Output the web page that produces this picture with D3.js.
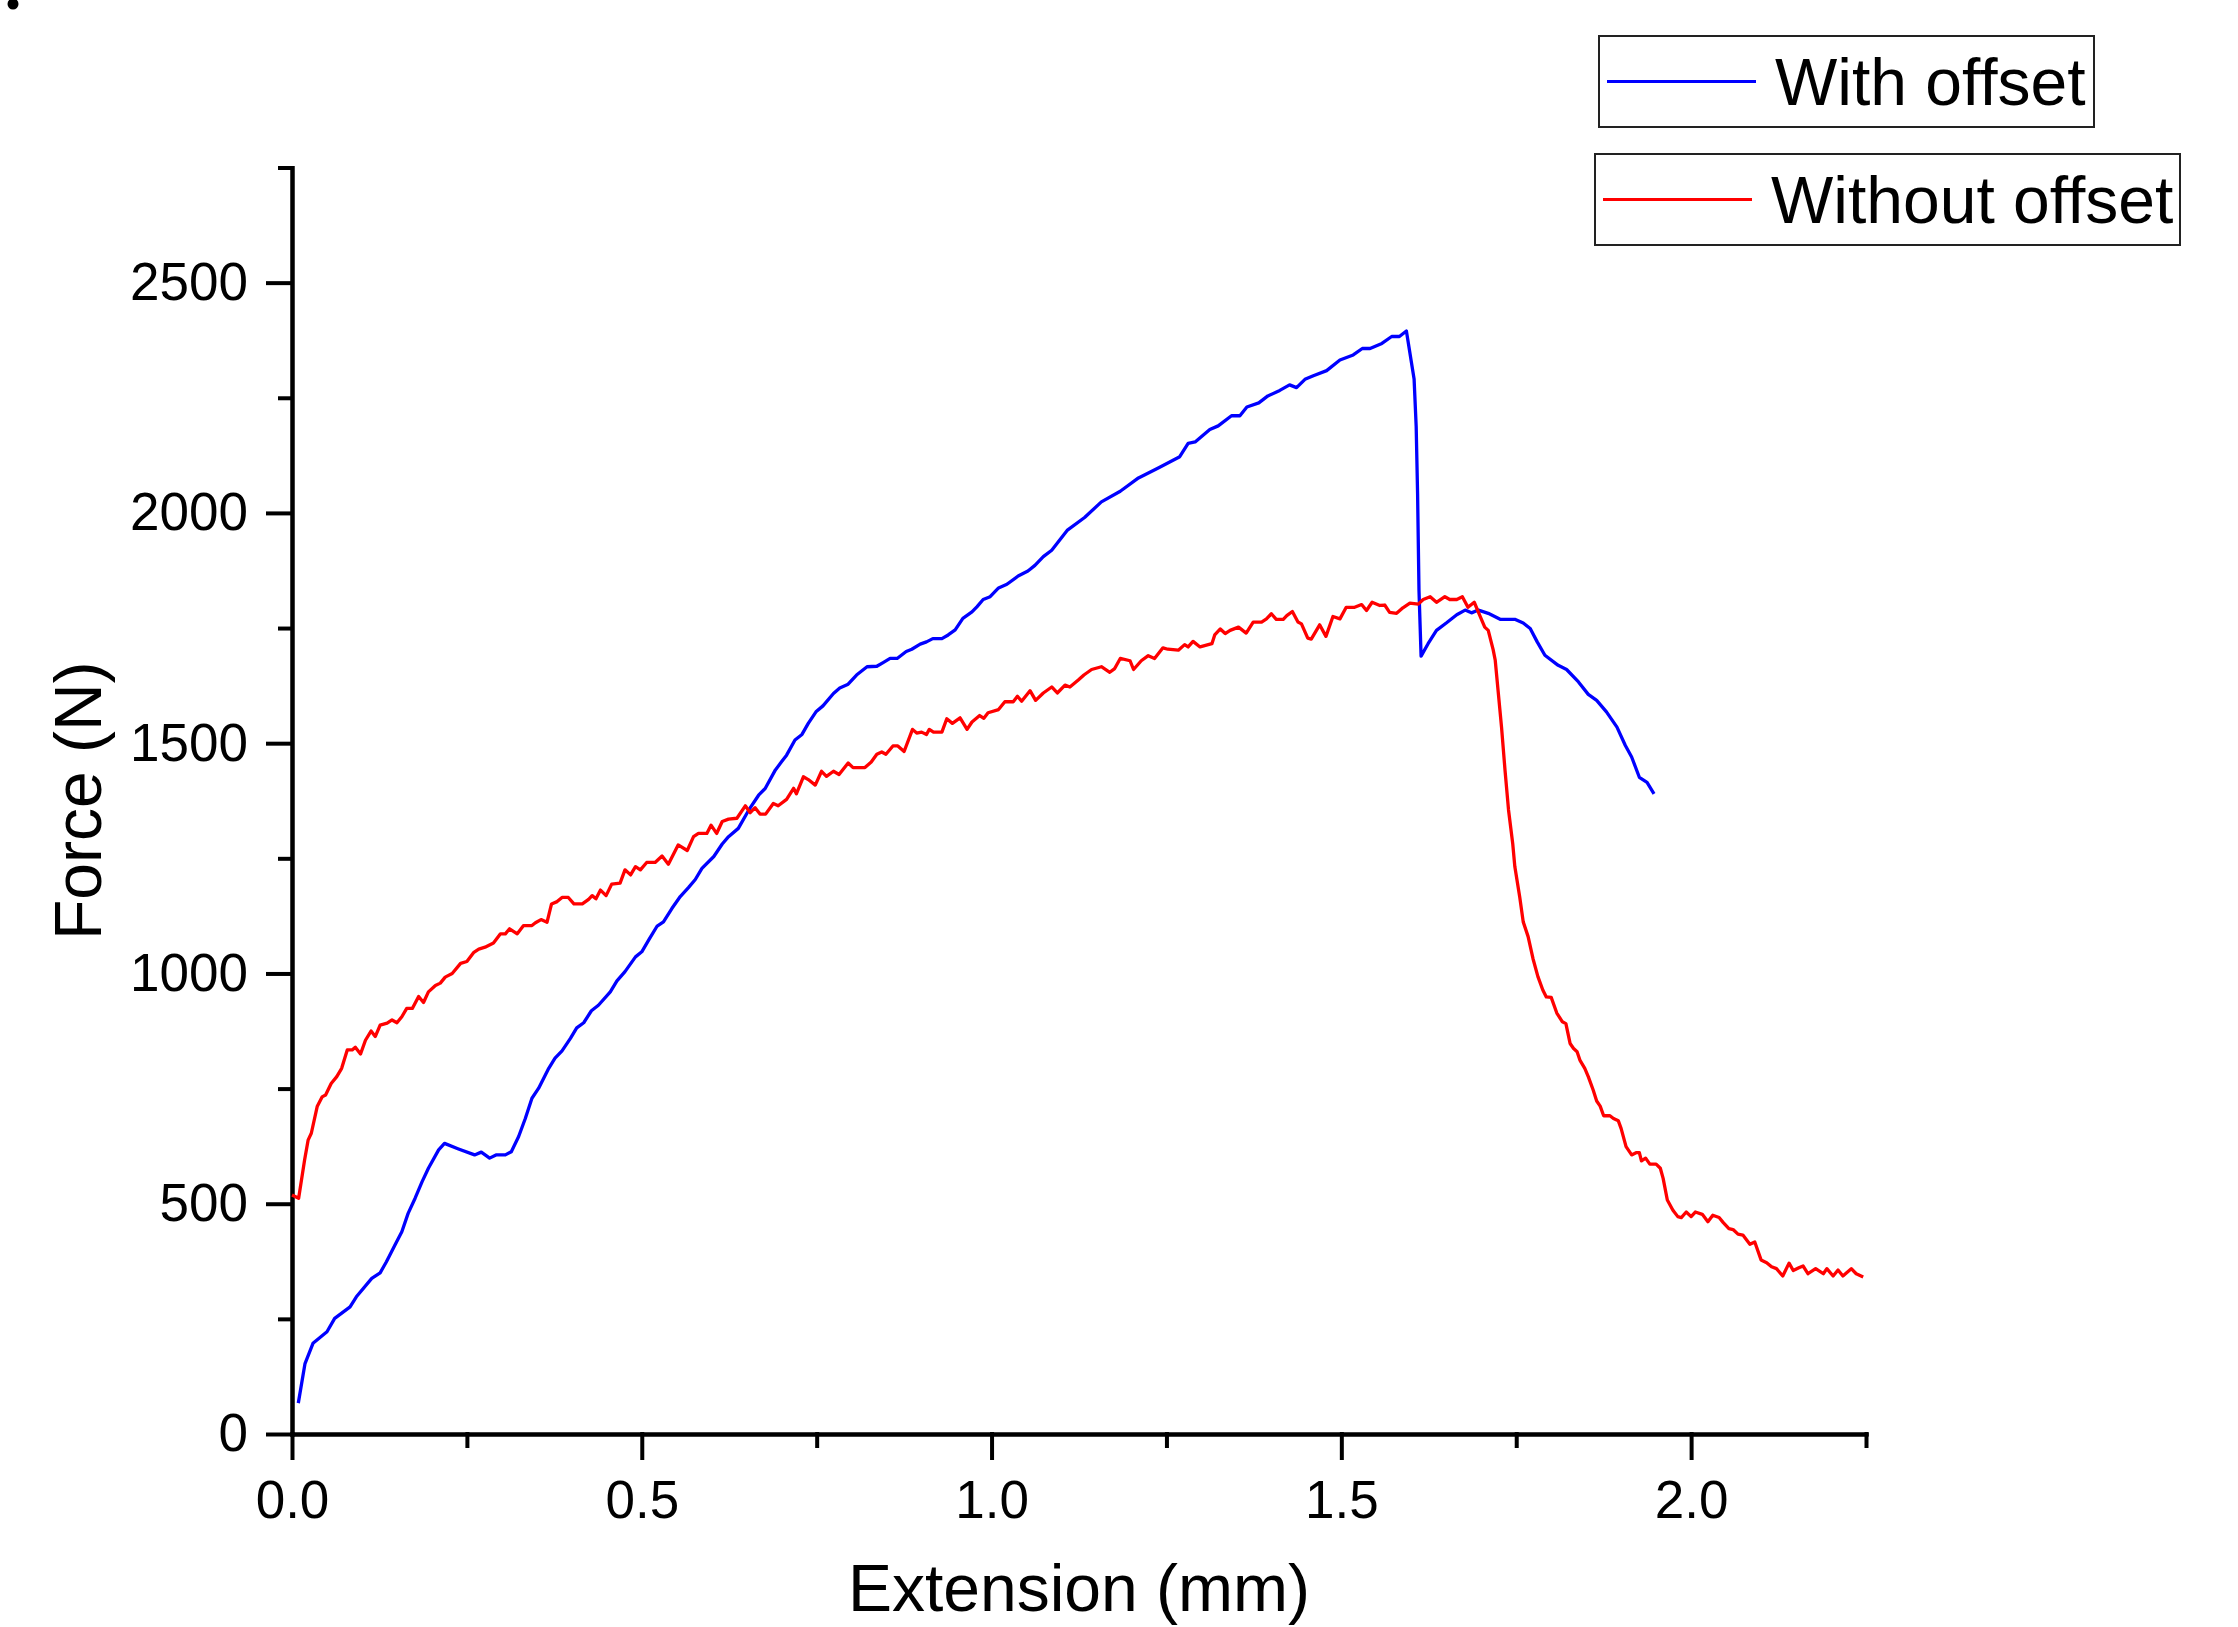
<!DOCTYPE html>
<html>
<head>
<meta charset="utf-8">
<script src="https://cdn.jsdelivr.net/npm/d3@7"></script>
<style>
  body { margin: 0; background: #fff; }
  svg { display: block; font-family: "Liberation Sans", Arial, sans-serif; }
  .axis path, .axis line { stroke: #000; stroke-width: 4; stroke-linecap: square; }
  .axis text { font-size: 53px; fill: #000; font-family: "Liberation Sans", Arial, sans-serif; }
</style>
</head>
<body>
<div id="chart"></div>
<script>
// series names, in legend order
const seriesNames = ["With offset", "Without offset"];
const seriesColors = ["#0000ff", "#ff0000"];

// tick values
const xMajorTicks = [0, 0.5, 1.0, 1.5, 2.0];
const xMinorTicks = [0.25, 0.75, 1.25, 1.75, 2.25];
const yMajorTicks = [0, 500, 1000, 1500, 2000, 2500];
const yMinorTicks = [250, 750, 1250, 1750, 2250, 2750];

// [extension (mm), force (N)]
const withOffset = [
  [0.009,67],[0.0186,153],[0.030,197],[0.050,222],[0.061,251],[0.083,276],[0.092,298],[0.114,338],
  [0.126,350],[0.135,374],[0.147,410],[0.157,439],[0.166,479],[0.176,512],[0.186,548],[0.195,577],
  [0.2096,617],[0.218,631],[0.238,619],[0.261,606],[0.2706,612],[0.2825,599],[0.2916,606],[0.305,606],
  [0.3135,613],[0.324,646],[0.3335,685],[0.343,729],[0.3526,751],[0.367,794],[0.376,816],[0.386,832],
  [0.398,859],[0.407,882],[0.417,893],[0.428,919],[0.438,931],[0.455,960],[0.4645,984],[0.476,1004],
  [0.491,1036],[0.500,1047],[0.510,1073],[0.522,1103],[0.531,1112],[0.543,1141],[0.555,1167],[0.567,1187],
  [0.5765,1204],[0.586,1228],[0.603,1254],[0.615,1281],[0.624,1297],[0.638,1315],[0.653,1355],[0.667,1387],
  [0.6766,1402],[0.691,1442],[0.700,1460],[0.707,1474],[0.719,1507],[0.729,1519],[0.738,1543],[0.749,1568],
  [0.759,1581],[0.774,1608],[0.783,1620],[0.795,1628],[0.807,1648],[0.822,1666],[0.836,1667],[0.845,1675],
  [0.855,1684],[0.865,1684],[0.878,1699],[0.886,1704],[0.898,1715],[0.907,1720],[0.916,1727],[0.929,1727],
  [0.938,1735],[0.948,1746],[0.959,1771],[0.972,1785],[0.979,1796],[0.988,1812],[0.998,1818],[1.010,1837],
  [1.022,1845],[1.038,1863],[1.052,1874],[1.062,1886],[1.074,1905],[1.086,1919],[1.108,1962],[1.133,1990],
  [1.157,2024],[1.184,2047],[1.210,2076],[1.239,2098],[1.269,2122],[1.281,2151],[1.291,2154],[1.312,2181],
  [1.324,2189],[1.343,2211],[1.355,2211],[1.365,2230],[1.382,2239],[1.395,2254],[1.412,2266],[1.426,2278],
  [1.436,2272],[1.448,2290],[1.460,2298],[1.479,2309],[1.498,2332],[1.517,2343],[1.530,2357],[1.541,2357],
  [1.558,2368],[1.572,2383],[1.583,2383],[1.593,2395],[1.604,2291],[1.607,2187],[1.609,2042],[1.611,1832],
  [1.614,1689],[1.624,1716],[1.636,1745],[1.650,1761],[1.665,1779],[1.677,1789],[1.686,1783],[1.696,1789],
  [1.710,1782],[1.727,1769],[1.748,1769],[1.760,1761],[1.770,1749],[1.780,1720],[1.791,1691],[1.810,1669],
  [1.822,1660],[1.839,1633],[1.853,1606],[1.865,1593],[1.879,1568],[1.894,1535],[1.906,1495],[1.915,1470],
  [1.926,1426],[1.937,1415],[1.947,1390]
];

const withoutOffset = [
  [0.000,519],[0.0095,512],[0.018,595],[0.023,638],[0.0276,653],[0.036,711],[0.043,732],[0.048,736],
  [0.056,761],[0.064,776],[0.071,794],[0.079,834],[0.086,834],[0.0905,840],[0.098,825],[0.105,855],
  [0.113,875],[0.119,863],[0.126,888],[0.136,892],[0.143,899],[0.150,893],[0.157,906],[0.164,924],
  [0.172,924],[0.181,950],[0.188,937],[0.195,960],[0.205,974],[0.212,979],[0.219,992],[0.229,1000],
  [0.241,1022],[0.250,1026],[0.260,1046],[0.267,1053],[0.276,1057],[0.288,1066],[0.298,1086],[0.305,1086],
  [0.311,1097],[0.322,1086],[0.331,1104],[0.343,1104],[0.348,1110],[0.356,1117],[0.3645,1111],[0.371,1151],
  [0.379,1156],[0.386,1165],[0.395,1165],[0.403,1151],[0.415,1151],[0.424,1161],[0.429,1169],[0.4345,1162],
  [0.441,1181],[0.449,1169],[0.457,1194],[0.469,1196],[0.476,1225],[0.484,1214],[0.491,1232],[0.498,1225],
  [0.507,1241],[0.519,1241],[0.529,1255],[0.538,1237],[0.552,1279],[0.565,1267],[0.574,1297],[0.581,1304],
  [0.593,1304],[0.599,1322],[0.607,1304],[0.615,1330],[0.624,1335],[0.636,1337],[0.648,1364],[0.655,1349],
  [0.662,1360],[0.669,1346],[0.677,1346],[0.688,1369],[0.695,1364],[0.707,1378],[0.717,1402],[0.721,1390],
  [0.731,1427],[0.738,1421],[0.748,1409],[0.757,1439],[0.764,1428],[0.774,1439],[0.782,1432],[0.795,1457],
  [0.802,1447],[0.819,1447],[0.828,1459],[0.836,1476],[0.843,1481],[0.849,1476],[0.859,1494],[0.866,1494],
  [0.875,1482],[0.887,1530],[0.893,1522],[0.900,1524],[0.907,1519],[0.911,1530],[0.917,1524],[0.929,1524],
  [0.936,1553],[0.944,1543],[0.955,1555],[0.965,1530],[0.972,1546],[0.983,1560],[0.989,1554],[0.995,1566],
  [1.010,1573],[1.019,1590],[1.031,1590],[1.037,1602],[1.043,1591],[1.055,1614],[1.063,1593],[1.074,1609],
  [1.086,1622],[1.094,1609],[1.105,1626],[1.112,1622],[1.124,1637],[1.132,1648],[1.143,1660],[1.157,1666],
  [1.169,1654],[1.176,1662],[1.184,1684],[1.198,1679],[1.203,1660],[1.214,1679],[1.224,1690],[1.233,1684],
  [1.245,1707],[1.252,1704],[1.267,1702],[1.276,1714],[1.281,1709],[1.288,1721],[1.298,1709],[1.315,1716],
  [1.319,1735],[1.327,1748],[1.334,1738],[1.341,1745],[1.353,1752],[1.364,1739],[1.374,1763],[1.386,1763],
  [1.393,1770],[1.400,1781],[1.407,1769],[1.417,1769],[1.422,1777],[1.430,1786],[1.438,1763],[1.443,1759],
  [1.452,1728],[1.457,1726],[1.469,1757],[1.478,1732],[1.488,1775],[1.498,1770],[1.507,1795],[1.519,1795],
  [1.529,1801],[1.536,1788],[1.544,1806],[1.555,1799],[1.562,1800],[1.569,1784],[1.579,1782],[1.588,1794],
  [1.598,1804],[1.610,1802],[1.617,1812],[1.627,1818],[1.636,1806],[1.648,1818],[1.655,1812],[1.665,1812],
  [1.673,1818],[1.681,1795],[1.690,1806],[1.698,1777],[1.705,1752],[1.710,1745],[1.717,1703],[1.720,1680],
  [1.724,1615],[1.729,1535],[1.734,1441],[1.739,1355],[1.745,1282],[1.748,1232],[1.755,1166],[1.760,1112],
  [1.767,1080],[1.774,1032],[1.781,993],[1.788,964],[1.793,949],[1.800,948],[1.808,914],[1.816,895],
  [1.821,891],[1.827,848],[1.832,837],[1.837,830],[1.841,812],[1.848,794],[1.853,776],[1.860,747],
  [1.865,723],[1.870,712],[1.875,691],[1.884,691],[1.889,685],[1.896,680],[1.900,663],[1.907,624],
  [1.915,606],[1.922,611],[1.926,611],[1.929,593],[1.935,599],[1.941,586],[1.950,586],[1.956,577],
  [1.960,555],[1.966,508],[1.974,486],[1.981,472],[1.986,470],[1.993,482],[2.000,472],[2.006,482],
  [2.016,477],[2.024,461],[2.031,475],[2.040,470],[2.046,459],[2.054,446],[2.060,444],[2.067,434],
  [2.074,432],[2.084,412],[2.091,417],[2.100,378],[2.108,372],[2.115,363],[2.122,359],[2.131,343],
  [2.140,371],[2.146,355],[2.154,361],[2.160,365],[2.167,348],[2.178,359],[2.189,348],[2.194,359],
  [2.203,343],[2.210,356],[2.217,343],[2.229,359],[2.236,348],[2.246,341]
];

const width = 2238;
const height = 1627;

const svg = d3.select("#chart")
  .append("svg")
  .attr("width", width)
  .attr("height", height);

svg.append("rect").attr("width", width).attr("height", height).attr("fill", "#fff");

// stray mark in the top-left corner of the original
svg.append("circle").attr("cx", 13).attr("cy", 4).attr("r", 5.5).attr("fill", "#000");

// scales
const x = d3.scaleLinear().domain([0, 2.25]).range([292, 1866]);
const y = d3.scaleLinear().domain([0, 2750]).range([1434, 167.5]);

// minor ticks first (no labels)
svg.append("g")
  .attr("class", "axis")
  .attr("transform", `translate(0,${y(0)})`)
  .call(d3.axisBottom(x).tickValues(xMinorTicks).tickSize(12).tickSizeOuter(0).tickFormat(""));

svg.append("g")
  .attr("class", "axis")
  .attr("transform", `translate(${x(0)},0)`)
  .call(d3.axisLeft(y).tickValues(yMinorTicks).tickSize(12).tickSizeOuter(0).tickFormat(""));

// major ticks with labels
svg.append("g")
  .attr("class", "axis")
  .attr("transform", `translate(0,${y(0)})`)
  .call(d3.axisBottom(x).tickValues(xMajorTicks).tickSize(24).tickSizeOuter(0)
    .tickPadding(22).tickFormat(d3.format(".1f")));

svg.append("g")
  .attr("class", "axis")
  .attr("transform", `translate(${x(0)},0)`)
  .call(d3.axisLeft(y).tickValues(yMajorTicks).tickSize(24).tickSizeOuter(0)
    .tickPadding(20).tickFormat(d3.format("d")));

// axis titles
svg.append("text")
  .attr("x", (x.range()[0] + x.range()[1]) / 2)
  .attr("y", 1611)
  .attr("text-anchor", "middle")
  .attr("font-size", 66)
  .text("Extension (mm)");

svg.append("text")
  .attr("transform", `translate(101,${(y.range()[0] + y.range()[1]) / 2}) rotate(-90)`)
  .attr("text-anchor", "middle")
  .attr("font-size", 66)
  .text("Force (N)");

// curves
const line = d3.line()
  .x(d => x(d[0]))
  .y(d => y(d[1]));

[withOffset, withoutOffset].forEach((data, i) => {
  svg.append("path")
    .datum(data)
    .attr("fill", "none")
    .attr("stroke", seriesColors[i])
    .attr("stroke-width", 3.3)
    .attr("stroke-linejoin", "round")
    .attr("d", line);
});

// legend: one framed box per series
const legendBoxes = [
  { x: 1599, y: 36, w: 495, h: 91 },
  { x: 1595, y: 154, w: 585, h: 91 }
];

seriesNames.forEach((name, i) => {
  const b = legendBoxes[i];
  const g = svg.append("g").attr("transform", `translate(${b.x},${b.y})`);
  g.append("rect")
    .attr("width", b.w)
    .attr("height", b.h)
    .attr("fill", "#fff")
    .attr("stroke", "#222")
    .attr("stroke-width", 2);
  g.append("line")
    .attr("x1", 8).attr("x2", 157)
    .attr("y1", b.h / 2).attr("y2", b.h / 2)
    .attr("stroke", seriesColors[i])
    .attr("stroke-width", 3);
  g.append("text")
    .attr("x", 176)
    .attr("y", b.h / 2 + 23.5)
    .attr("font-size", 66)
    .text(name);
});
</script>
</body>
</html>
